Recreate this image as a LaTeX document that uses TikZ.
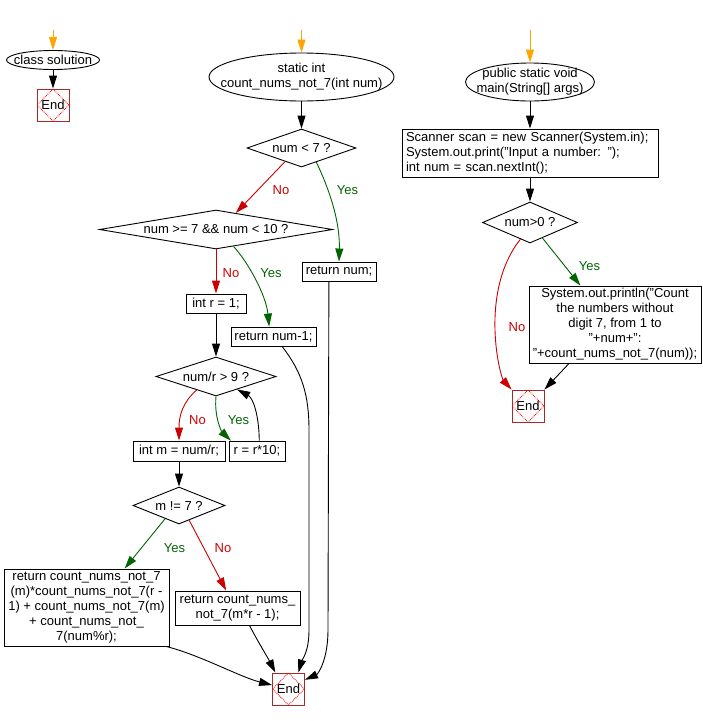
\documentclass[tikz,border=0pt]{standalone}
\usepackage{fontspec}
\setmainfont{Liberation Sans}
\usetikzlibrary{shapes.geometric,arrows.meta,calc}
\definecolor{nored}{RGB}{204,0,0}
\definecolor{yesgreen}{RGB}{0,100,0}
\definecolor{endbrown}{RGB}{165,42,42}
\definecolor{startorange}{RGB}{255,165,0}
\begin{document}
\begin{tikzpicture}[x=1pt,y=-1pt,
  every node/.style={font=\fontsize{13}{15}\selectfont, inner sep=0pt},
  box/.style={draw, rectangle, align=center, line width=0.9pt},
  oval/.style={draw, ellipse, line width=0.9pt},
  txt/.style={align=center},
  decision/.style={draw, diamond, line width=0.9pt},
  endbox/.style={draw=endbrown, rectangle, minimum width=32, minimum height=32, line width=0.9pt,
    path picture={\draw[red, densely dotted, line width=0.8pt] (path picture bounding box.north) -- (path picture bounding box.east) -- (path picture bounding box.south) -- (path picture bounding box.west) -- cycle;}},
  flow/.style={line width=0.9pt, -{Triangle[length=13pt,width=8pt]}},
  startflow/.style={flow, startorange},
  noflow/.style={flow, nored},
  yesflow/.style={flow, yesgreen},
  nolab/.style={text=nored},
  yeslab/.style={text=yesgreen}
]
\useasboundingbox (0,0) rectangle (703,721);

% ---------- left: class solution ----------
\coordinate (s1) at (53,30);
\node[oval, minimum width=93, minimum height=19] (cls) at (53,60) {};
\node[txt] (clst) at (cls.center) {class solution};
\node[endbox] (end1) at (53,105) {End};
\draw[startflow] (s1) -- (cls.north);
\draw[flow] (cls.south) -- (end1.north);

% ---------- middle: count_nums_not_7 ----------
\coordinate (s2) at (301.5,30);
\node[oval, minimum width=185, minimum height=48] (fn) at (301.5,77) {};
\node[txt] (fnt) at (fn.center) {static int\\count\_nums\_not\_7(int num)};
\node[decision, aspect=2.9, minimum width=109, minimum height=38] (d1) at (301.5,148) {num < 7 ?};
\node[decision, aspect=6, minimum width=233, minimum height=39] (d2) at (216,229.5) {num >= 7 \&\& num < 10 ?};
\node[box, minimum width=74, minimum height=19] (ret1) at (339,271.5) {return num;};
\node[box, minimum width=60, minimum height=19] (rinit) at (216,303.5) {int r = 1;};
\node[box, minimum width=85, minimum height=19] (ret2) at (273.5,336.5) {return num-1;};
\node[decision, aspect=3, minimum width=120, minimum height=39] (d3) at (216,376.5) {num/r > 9 ?};
\node[box, minimum width=92, minimum height=20] (intm) at (179,451) {int m = num/r;};
\node[box, minimum width=56, minimum height=20] (r10) at (257,451) {r = r*10;};
\node[decision, aspect=2.5, minimum width=92, minimum height=37] (d4) at (179,505.5) {m != 7 ?};
\node[box, minimum width=165, minimum height=77] (bigret) at (86.5,607.5) {return count\_nums\_not\_7\\(m)*count\_nums\_not\_7(r -\\1) + count\_nums\_not\_7(m)\\+ count\_nums\_not\_\\7(num\%r);};
\node[box, minimum width=125, minimum height=34] (smret) at (237.5,608) {return count\_nums\_\\not\_7(m*r - 1);};
\node[endbox] (endm) at (288.5,689) {End};

\draw[startflow] (s2) -- (fn.north);
\draw[flow] (fn.south) -- (d1.north);
\draw[noflow] ($(d1.west)!0.7!(d1.south)$) -- ($(d2.north)!0.17!(d2.east)$);
\node[nolab] (l1) at (281,190.5) {No};
\draw[yesflow] ($(d1.south)!0.27!(d1.east)$) .. controls (332,195) and (340,225) .. (ret1.north);
\node[yeslab] (l2) at (347.5,190.5) {Yes};
\draw[noflow] (d2.south) -- (rinit.north);
\node[nolab] (l3) at (231,273) {No};
\draw[yesflow] ($(d2.south)!0.15!(d2.east)$) .. controls (248,262) and (266,295) .. ($(ret2.north west)!0.45!(ret2.north east)$);
\node[yeslab] (l4) at (271,273) {Yes};
\draw[flow] (rinit.south) -- (d3.north);
\draw[noflow] ($(d3.west)!0.68!(d3.south)$) .. controls (183,402) and (179,415) .. (intm.north);
\node[nolab] (l5) at (197.5,420.5) {No};
\draw[yesflow] (d3.south) .. controls (214,418) and (222,432) .. ($(r10.north west)!0.04!(r10.north east)$);
\node[yeslab] (l6) at (238.5,420.5) {Yes};
\draw[flow] ($(r10.north west)!0.54!(r10.north east)$) .. controls (259,415) and (253,398) .. ($(d3.east)!0.65!(d3.south)$);
\draw[flow] (intm.south) -- (d4.north);
\draw[yesflow] ($(d4.west)!0.7!(d4.south)$) -- ($(bigret.north west)!0.73!(bigret.north east)$);
\node[yeslab] (l7) at (174.5,548.5) {Yes};
\draw[noflow] ($(d4.south)!0.22!(d4.east)$) -- ($(smret.north west)!0.41!(smret.north east)$);
\node[nolab] (l8) at (223,548.5) {No};
\draw[flow] ($(bigret.south west)!0.98!(bigret.south east)$) .. controls (200,655) and (240,677) .. ($(endm.north west)!0.38!(endm.south west)$);
\draw[flow] ($(smret.south west)!0.595!(smret.south east)$) .. controls (257,640) and (268,658) .. ($(endm.north west)!0.1!(endm.north east)$);
\draw[flow] ($(ret2.south west)!0.6!(ret2.south east)$) .. controls (302,372) and (309,395) .. (309,430) -- (309,630) .. controls (309,652) and (302,660) .. ($(endm.north west)!0.8!(endm.north east)$);
\draw[flow] ($(ret1.south west)!0.365!(ret1.south east)$) -- (328,630) .. controls (328,660) and (318,674) .. ($(endm.north east)!0.22!(endm.south east)$);

% ---------- right: main ----------
\coordinate (s3) at (530,30);
\node[oval, minimum width=129, minimum height=38] (mainf) at (530,82) {};
\node[txt] (maint) at (mainf.center) {public static void\\main(String[] args)};
\node[box, align=left, text width=248, inner xsep=4, minimum height=48] (scan) at (530,153) {Scanner scan = new Scanner(System.in);\\System.out.print("Input a number: ");\\int num = scan.nextInt();};
\node[decision, aspect=2.3, minimum width=95, minimum height=41] (d5) at (530,222.5) {num>0 ?};
\node[box, minimum width=172, minimum height=77] (println) at (615,324.5) {System.out.println("Count\\the numbers without\\digit 7, from 1 to\\"+num+":\\"+count\_nums\_not\_7(num));};
\node[endbox] (endr) at (528,406) {End};

\draw[startflow] (s3) -- (mainf.north);
\draw[flow] (mainf.south) -- (scan.north);
\draw[flow] (scan.south) -- (d5.north);
\draw[yesflow] ($(d5.south)!0.26!(d5.east)$) -- ($(println.north west)!0.3!(println.north east)$);
\node[yeslab] (l9) at (589.5,266) {Yes};
\draw[noflow] ($(d5.west)!0.8!(d5.south)$) .. controls (502,262) and (494,295) .. (495,330) .. controls (496,362) and (503,380) .. (endr.north west);
\node[nolab] (l10) at (517,327) {No};
\draw[flow] ($(println.south west)!0.234!(println.south east)$) -- (endr.north east);
\end{tikzpicture}
\end{document}
